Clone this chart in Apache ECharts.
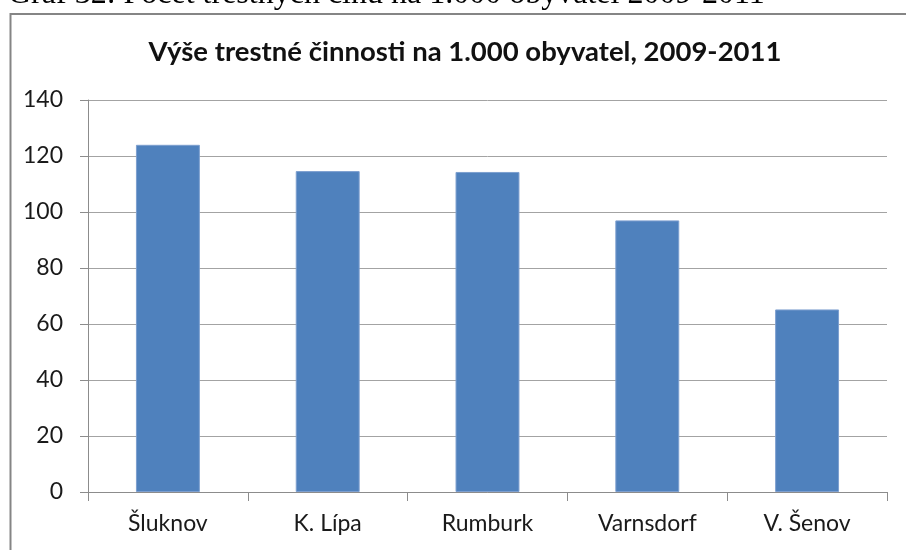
<!DOCTYPE html>
<html>
<head>
<meta charset="utf-8">
<script src="https://cdn.jsdelivr.net/npm/echarts@6/dist/echarts.min.js"></script>
<style>
  html, body { margin: 0; padding: 0; background: #fff; }
  #chart { width: 906px; height: 550px; }
</style>
</head>
<body>
<div id="chart"></div>
<script>
// data
const towns = ["Šluknov", "K. Lípa", "Rumburk", "Varnsdorf", "V. Šenov"];
const crimeRate = [124.0, 114.6, 114.3, 97.0, 65.2];
const yTicks = [0, 20, 40, 60, 80, 100, 120, 140];

const chart = echarts.init(document.getElementById("chart"));

const option = {
  backgroundColor: "#fff",
  animation: false,
  title: {
    text: "Výše trestné činnosti na 1.000 obyvatel, 2009-2011",
    left: 460,
    top: 33,
    textAlign: "center",
    textStyle: {
      fontFamily: "Lato",
      fontWeight: "bold",
      fontSize: 27.5,
      color: "#111",
    },
  },
  grid: {
    left: 88,
    right: 19,
    top: 100,
    bottom: 58,
  },
  xAxis: {
    type: "category",
    data: towns,
    axisLine: { lineStyle: { color: "#8c8c8c", width: 1 } },
    axisTick: { show: true, length: 9, lineStyle: { color: "#8c8c8c" } },
    axisLabel: {
      margin: 20,
      fontFamily: "Lato",
      fontSize: 23,
      color: "#1a1a1a",
    },
  },
  yAxis: {
    type: "value",
    min: yTicks[0],
    max: yTicks[yTicks.length - 1],
    interval: 20,
    axisLine: { show: true, lineStyle: { color: "#8c8c8c" } },
    axisTick: { show: true, length: 8, lineStyle: { color: "#8c8c8c" } },
    splitLine: { lineStyle: { color: "#a3a3a3", width: 1 } },
    axisLabel: {
      margin: 25,
      fontFamily: "Lato",
      fontSize: 23,
      color: "#1a1a1a",
    },
  },
  series: [
    {
      type: "bar",
      data: crimeRate,
      barWidth: "40%",
      itemStyle: {
        color: "#4f81bd",
        borderColor: "#7d9fcf",
        borderWidth: 1,
      },
    },
  ],
  graphic: [
    // caption of the document, cut off at the top
    {
      type: "text",
      left: 8,
      top: -21,
      z: 10,
      style: {
        text: "Graf 32: Počet trestných činů na 1.000 obyvatel 2009-2011",
        fontFamily: "Liberation Serif",
        fontSize: 32,
        fill: "#000",
      },
    },
    {
      type: "rect",
      z: 11,
      shape: { x: 0, y: 10, width: 906, height: 4 },
      style: { fill: "#fff" },
    },
    // chart frame
    {
      type: "rect",
      z: 12,
      shape: { x: 10.5, y: 14, width: 1000, height: 1000 },
      style: { fill: null, stroke: "#858585", lineWidth: 2 },
    },
  ],
};

chart.setOption(option);
</script>
</body>
</html>
